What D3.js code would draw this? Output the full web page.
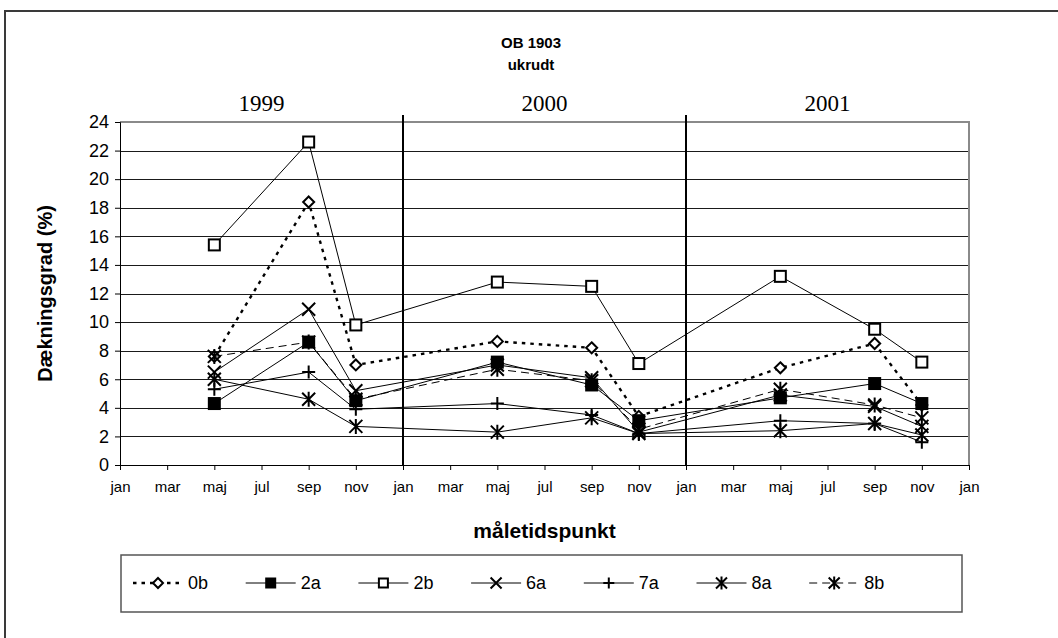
<!DOCTYPE html>
<html><head><meta charset="utf-8">
<script src="https://cdn.jsdelivr.net/npm/d3@7"></script>
<style>
html,body{margin:0;padding:0;background:#fff;}
svg{display:block;}
text{font-family:"Liberation Sans",Arial,sans-serif;fill:#000;}
</style></head>
<body>
<svg id="c" width="1058" height="638"></svg>
<script>
// ---- data ----
const monthTickLabels = ["jan","mar","maj","jul","sep","nov"];
const yearLabels = ["1999","2000","2001"];
const pointLabels = ["maj 1999","sep 1999","nov 1999","maj 2000","sep 2000","nov 2000","maj 2001","sep 2001","nov 2001"];
const pointMonths = [4,8,10,16,20,22,28,32,34]; // months since jan 1999
const yTicks = [0,2,4,6,8,10,12,14,16,18,20,22,24];
const seriesNames = ["0b","2a","2b","6a","7a","8a","8b"];
const s0b = [7.6,18.4,7.0, 8.65,8.2,3.4, 6.8,8.5,4.2];
const s2a = [4.3,8.6,4.5, 7.2,5.6,3.1, 4.7,5.7,4.3];
const s2b = [15.4,22.6,9.8, 12.8,12.5,7.1, 13.2,9.5,7.2];
const s6a = [6.5,10.9,5.2, 7.0,6.1,2.3, 4.9,4.1,2.7];
const s7a = [5.3,6.5,3.9, 4.3,3.5,2.2, 3.1,2.9,1.6];
const s8a = [6.0,4.6,2.7, 2.3,3.3,2.2, 2.4,2.9,2.1];
const s8b = [7.6,8.6,4.6, 6.7,5.9,2.5, 5.3,4.2,3.3];
const seriesValues = [s0b,s2a,s2b,s6a,s7a,s8a,s8b];

// ---- styles ----
const styles = {
  "0b":{dash:"3.5,5", width:2.4, marker:"diamond"},
  "2a":{dash:null, width:1, marker:"squareFilled"},
  "2b":{dash:null, width:1, marker:"squareOpen"},
  "6a":{dash:null, width:1, marker:"x"},
  "7a":{dash:null, width:1, marker:"plus"},
  "8a":{dash:null, width:1, marker:"star"},
  "8b":{dash:"8,5", width:1, marker:"star"}
};

const svg = d3.select("#c");
const L=120, R=969, T=122, B=465;
const x = d3.scaleLinear().domain([0,36]).range([L,R]);
const y = d3.scaleLinear().domain([0,24]).range([B,T]);

// outer frame
svg.append("rect").attr("x",5).attr("y",11).attr("width",1100).attr("height",700)
  .attr("fill","none").attr("stroke","#3a3a3a").attr("stroke-width",2);

// title
svg.append("text").attr("x",531).attr("y",48).attr("text-anchor","middle")
  .attr("font-weight","bold").attr("font-size",15).text("OB 1903");
svg.append("text").attr("x",531).attr("y",70).attr("text-anchor","middle")
  .attr("font-weight","bold").attr("font-size",15).text("ukrudt");

// year labels
yearLabels.forEach((yl,i)=>{
  svg.append("text").attr("x",x(i*12+6)).attr("y",111).attr("text-anchor","middle")
    .style("font-family","'Liberation Serif','Times New Roman',serif").attr("font-size",23).text(yl);
});

// gridlines
svg.append("g").selectAll("line").data(yTicks.filter(d=>d>0 && d<24)).join("line")
  .attr("x1",L).attr("x2",R).attr("y1",d=>Math.round(y(d))+0.5).attr("y2",d=>Math.round(y(d))+0.5)
  .attr("stroke","#1a1a1a").attr("stroke-width",1);

// plot border (top/right grey)
svg.append("path").attr("d",`M${L},${T} H${R} V${B}`).attr("fill","none")
  .attr("stroke","#8a8a8a").attr("stroke-width",2);

// year separator lines
[12,24].forEach(m=>{
  svg.append("line").attr("x1",x(m)).attr("x2",x(m)).attr("y1",115).attr("y2",B)
    .attr("stroke","#000").attr("stroke-width",2);
});

// axes
const yAxis = d3.axisLeft(y).tickValues(yTicks).tickSize(5).tickPadding(6).tickFormat(d3.format("d"));
const gy = svg.append("g").attr("transform",`translate(${L},0)`).call(yAxis);
gy.select(".domain").attr("stroke","#000");
gy.selectAll("text").attr("font-size",18).style("font-family","'Liberation Sans',Arial,sans-serif");

const xTickVals = d3.range(0,37,2);
const xAxis = d3.axisBottom(x).tickValues(xTickVals).tickSize(5).tickPadding(11)
  .tickFormat(d=>monthTickLabels[(d/2)%6]);
const gx = svg.append("g").attr("transform",`translate(0,${B})`).call(xAxis);
gx.select(".domain").attr("stroke","#000");
gx.selectAll("text").attr("font-size",15).style("font-family","'Liberation Sans',Arial,sans-serif");

// axis titles
svg.append("text").attr("transform",`translate(52,${(T+B)/2}) rotate(-90)`).attr("text-anchor","middle")
  .attr("font-weight","bold").attr("font-size",20).text("Dækningsgrad (%)");
svg.append("text").attr("x",(L+R)/2).attr("y",538).attr("text-anchor","middle")
  .attr("font-weight","bold").attr("font-size",21).text("måletidspunkt");

// marker drawing
function drawMarker(g, type, cx, cy, s){
  const h = s/2;
  if(type==="diamond"){
    g.append("path").attr("d",`M${cx},${cy-h} L${cx+h},${cy} L${cx},${cy+h} L${cx-h},${cy} Z`)
      .attr("fill","#fff").attr("stroke","#000").attr("stroke-width",2);
  } else if(type==="squareFilled"){
    g.append("rect").attr("x",cx-h).attr("y",cy-h).attr("width",s).attr("height",s).attr("fill","#000");
  } else if(type==="squareOpen"){
    g.append("rect").attr("x",cx-h+1).attr("y",cy-h+1).attr("width",s-2).attr("height",s-2)
      .attr("fill","#fff").attr("stroke","#000").attr("stroke-width",2);
  } else if(type==="x"){
    g.append("path").attr("d",`M${cx-h},${cy-h} L${cx+h},${cy+h} M${cx-h},${cy+h} L${cx+h},${cy-h}`)
      .attr("stroke","#000").attr("stroke-width",2).attr("fill","none");
  } else if(type==="plus"){
    g.append("path").attr("d",`M${cx-h},${cy} L${cx+h},${cy} M${cx},${cy-h} L${cx},${cy+h}`)
      .attr("stroke","#000").attr("stroke-width",2).attr("fill","none");
  } else if(type==="star"){
    g.append("path").attr("d",`M${cx-h},${cy-h} L${cx+h},${cy+h} M${cx-h},${cy+h} L${cx+h},${cy-h} M${cx},${cy-h-1} L${cx},${cy+h+1}`)
      .attr("stroke","#000").attr("stroke-width",2).attr("fill","none");
  }
}

// series
const line = d3.line().x((d,i)=>x(pointMonths[i])).y(d=>y(d));
seriesNames.forEach((name,k)=>{
  const st = styles[name];
  const g = svg.append("g").attr("class","series-"+name);
  g.append("path").datum(seriesValues[k]).attr("d",line).attr("fill","none")
    .attr("stroke","#000").attr("stroke-width",st.width).attr("stroke-dasharray",st.dash);
  seriesValues[k].forEach((v,i)=>{
    const sz = st.marker==="diamond" ? 11 : 13;
    drawMarker(g, st.marker, x(pointMonths[i]), y(v), sz);
  });
});

// legend
const lg = svg.append("g");
lg.append("rect").attr("x",121).attr("y",555).attr("width",841).attr("height",57)
  .attr("fill","#fff").attr("stroke","#555").attr("stroke-width",1.5);
seriesNames.forEach((name,k)=>{
  const st = styles[name];
  const mx = 158 + k*112.7, my = 583;
  lg.append("line").attr("x1",mx-25).attr("x2",mx+25).attr("y1",my).attr("y2",my)
    .attr("stroke","#000").attr("stroke-width",st.width).attr("stroke-dasharray",st.dash);
  drawMarker(lg, st.marker, mx, my, st.marker==="diamond"?10:11);
  lg.append("text").attr("x",mx+30).attr("y",my+6).attr("font-size",18).text(name);
});
</script>
</body></html>
